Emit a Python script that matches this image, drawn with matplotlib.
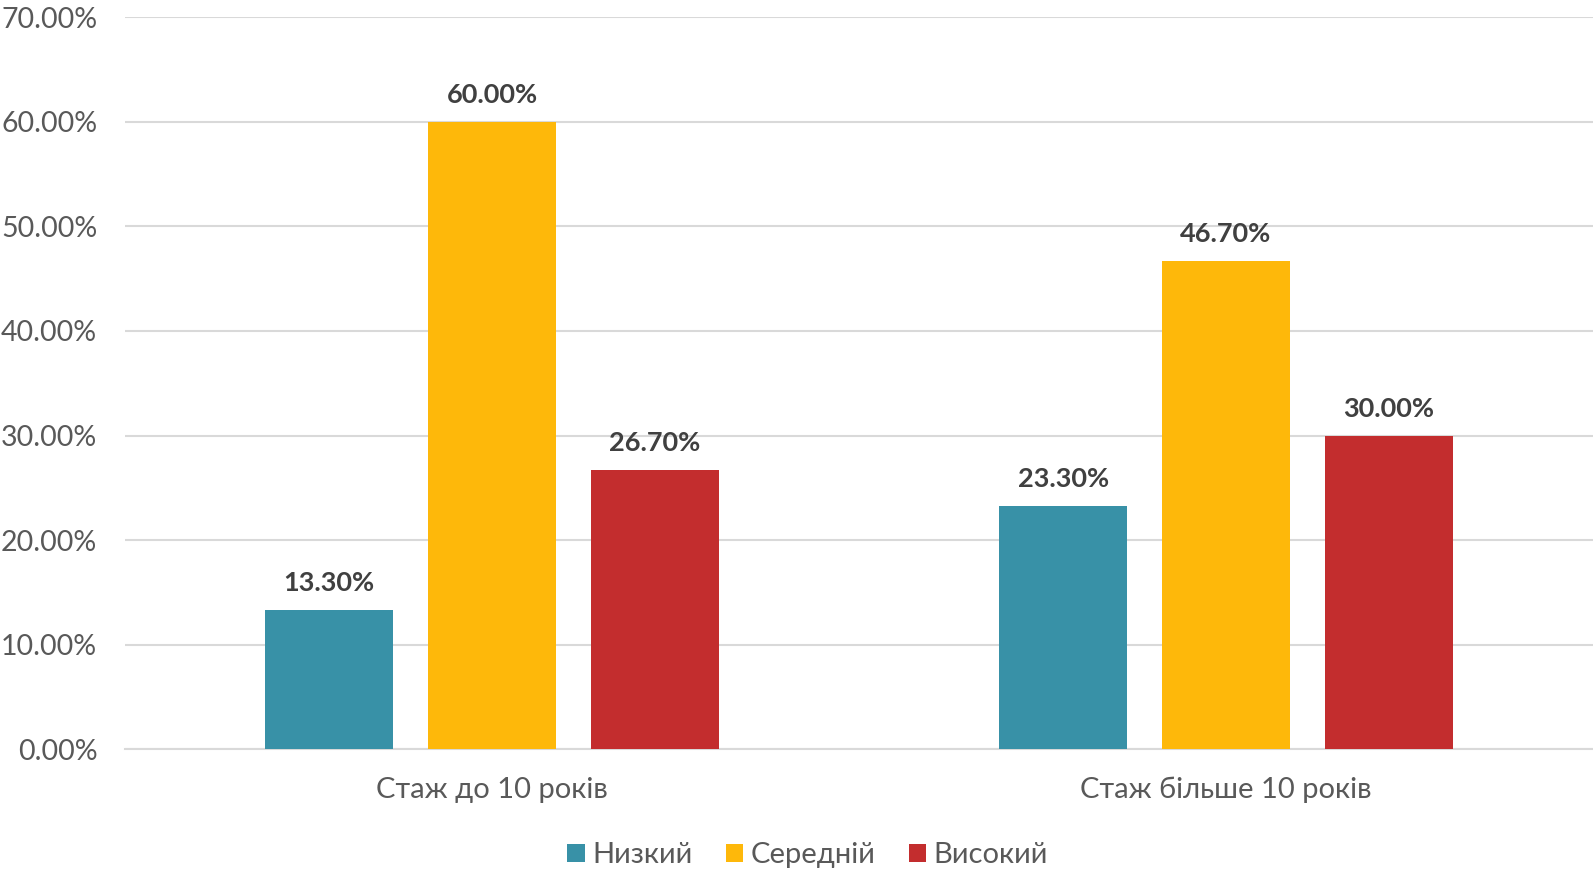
import matplotlib
matplotlib.use("Agg")
import matplotlib.pyplot as plt
import numpy as np

categories = ["Стаж до 10 років", "Стаж більше 10 років"]
series_names = ["Низкий", "Середній", "Високий"]
low = [13.3, 23.3]
mid = [60.0, 46.7]
high = [26.7, 30.0]
y_ticks = [0, 10, 20, 30, 40, 50, 60, 70]

colors = ["#3891A7", "#FEB80A", "#C32D2E"]

plt.rcParams['font.family'] = ['Lato', 'DejaVu Sans']

fig = plt.figure(figsize=(15.93, 8.72), dpi=100)
ax = fig.add_axes([0.0785, 0.141, 0.9215, 0.839])

x = np.arange(len(categories))
width = 0.174
step = 0.222
for i, (vals, name, c) in enumerate(zip([low, mid, high], series_names, colors)):
    pos = x + (i - 1) * step
    bars = ax.bar(pos, vals, width=width, color=c, label=name, zorder=3)
    for b, v in zip(bars, vals):
        ax.text(b.get_x() + b.get_width() / 2, v + 1.4, f"{v:.2f}%",
                ha="center", va="bottom", fontsize=19.5, fontweight="bold",
                color="#404040")

ax.set_xlim(-0.5, 1.5)
ax.set_ylim(0, 70)
ax.set_yticks(y_ticks)
ax.set_yticklabels([f"{t:.2f}%" for t in y_ticks], fontsize=20.5, color="#595959")
ax.set_xticks(x)
ax.set_xticklabels(categories, fontsize=21, color="#595959")
ax.tick_params(axis="both", length=0)
ax.tick_params(axis="y", pad=20)
ax.tick_params(axis="x", pad=20)
ax.grid(axis="y", color="#D9D9D9", linewidth=1.5, zorder=0)
for s in ["top", "right", "left"]:
    ax.spines[s].set_visible(False)
ax.spines["bottom"].set_color("#D9D9D9")
ax.spines["bottom"].set_linewidth(1.5)

leg = fig.legend(loc="lower center", bbox_to_anchor=(0.507, -0.026), ncol=3, frameon=False,
                 fontsize=21, handlelength=0.6, handleheight=0.6, handletextpad=0.25,
                 columnspacing=1.15)
for t in leg.get_texts():
    t.set_color("#595959")

fig.savefig("out.png", dpi=100)
